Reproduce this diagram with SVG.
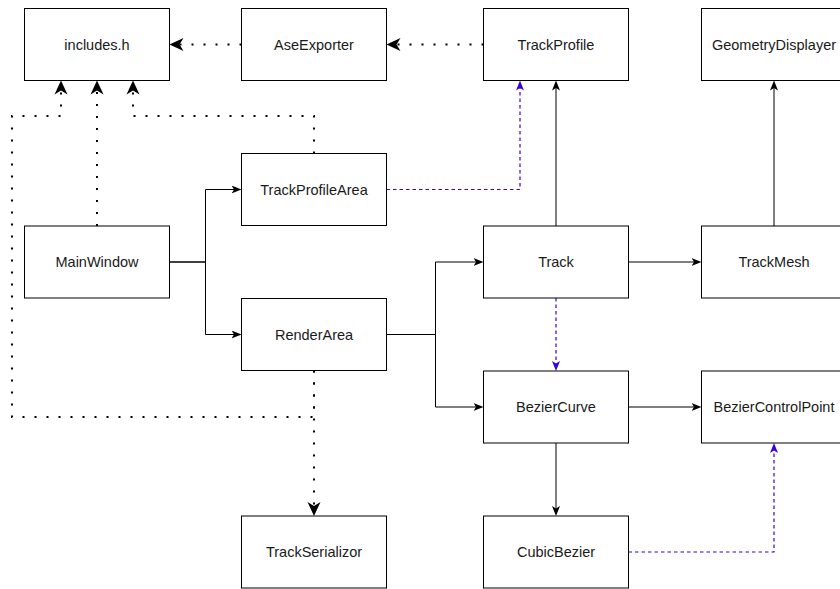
<svg xmlns="http://www.w3.org/2000/svg" width="840" height="589" viewBox="0 0 840 589">
<style>
.box rect{fill:#fff;stroke:#000;stroke-width:1}
.box text{font-family:"Liberation Sans",Arial,sans-serif;font-size:14.5px;fill:#1a1a1a;text-anchor:middle}
.solid{fill:none;stroke:#000;stroke-width:1;marker-end:url(#arr)}
.dot{fill:none;stroke:#000;stroke-width:2;stroke-dasharray:2 10;marker-end:url(#dotArr)}
.blue{fill:none;stroke:#3D00D6;stroke-width:1.2;stroke-dasharray:3.5 3;marker-end:url(#blueArr)}
</style>
<defs>
<marker id="arr" viewBox="0 -4 10 8" refX="2.5" refY="0" markerWidth="10" markerHeight="8" orient="auto" markerUnits="userSpaceOnUse"><path d="M10,0 L0,-4 L2.5,0 L0,4 Z" fill="#000"/></marker>
<marker id="blueArr" viewBox="0 -4 10 8" refX="2.5" refY="0" markerWidth="10" markerHeight="8" orient="auto" markerUnits="userSpaceOnUse"><path d="M10,0 L0,-4 L2.5,0 L0,4 Z" fill="#3D00D6"/></marker>
<marker id="dotArr" viewBox="0 -7 14 14" refX="4" refY="0" markerWidth="14" markerHeight="14" orient="auto" markerUnits="userSpaceOnUse"><path d="M14,0 L0,-6.5 L4,0 L0,6.5 Z" fill="#000"/></marker>
</defs>
<g id="connectors">
<path class="dot" d="M241.5,44.5 L179.5,44.5"/>
<path class="dot" d="M483.5,44.5 L396.5,44.5"/>
<path class="dot" d="M97,226 L97,90.5"/>
<path class="dot" d="M314,370.5 L314,417 L12,417 L12,116 L61,116 L61,90.5"/>
<path class="dot" d="M314,153.5 L314,116 L133,116 L133,90.5"/>
<path class="dot" d="M314,370.5 L314,506"/>
<path class="solid" d="M556,226 L556,88"/>
<path class="solid" d="M774,226 L774,88"/>
<path class="solid" d="M169.5,262 L205.5,262 L205.5,189.5 L234,189.5"/>
<path class="solid" d="M169.5,262 L205.5,262 L205.5,334.5 L234,334.5"/>
<path class="solid" d="M386.5,334.5 L435.5,334.5 L435.5,262 L476,262"/>
<path class="solid" d="M386.5,334.5 L435.5,334.5 L435.5,407 L476,407"/>
<path class="solid" d="M628.5,262 L694,262"/>
<path class="solid" d="M628.5,407 L694,407"/>
<path class="solid" d="M556,443 L556,508.5"/>
<path class="blue" d="M386.5,189.5 L520,189.5 L520,88"/>
<path class="blue" d="M556,298 L556,363.5"/>
<path class="blue" d="M628.5,552 L774,552 L774,450.5"/>
</g>
<g id="includes" class="box"><rect x="24.5" y="8.5" width="145" height="72"/><text x="97" y="49.5">includes.h</text></g>
<g id="aseexporter" class="box"><rect x="241.5" y="8.5" width="145" height="72"/><text x="314" y="49.5">AseExporter</text></g>
<g id="trackprofile" class="box"><rect x="483.5" y="8.5" width="145" height="72"/><text x="556" y="49.5">TrackProfile</text></g>
<g id="geometrydisplayer" class="box"><rect x="701.5" y="8.5" width="145" height="72"/><text x="774" y="49.5">GeometryDisplayer</text></g>
<g id="trackprofilearea" class="box"><rect x="241.5" y="153.5" width="145" height="72"/><text x="314" y="194.5">TrackProfileArea</text></g>
<g id="mainwindow" class="box"><rect x="24.5" y="226" width="145" height="72"/><text x="97" y="267">MainWindow</text></g>
<g id="track" class="box"><rect x="483.5" y="226" width="145" height="72"/><text x="556" y="267">Track</text></g>
<g id="trackmesh" class="box"><rect x="701.5" y="226" width="145" height="72"/><text x="774" y="267">TrackMesh</text></g>
<g id="renderarea" class="box"><rect x="241.5" y="298.5" width="145" height="72"/><text x="314" y="339.5">RenderArea</text></g>
<g id="beziercurve" class="box"><rect x="483.5" y="371" width="145" height="72"/><text x="556" y="412">BezierCurve</text></g>
<g id="beziercontrolpoint" class="box"><rect x="701.5" y="371" width="145" height="72"/><text x="774" y="412">BezierControlPoint</text></g>
<g id="trackserializor" class="box"><rect x="241.5" y="516" width="145" height="72"/><text x="314" y="557">TrackSerializor</text></g>
<g id="cubicbezier" class="box"><rect x="483.5" y="516" width="145" height="72"/><text x="556" y="557">CubicBezier</text></g>
</svg>
